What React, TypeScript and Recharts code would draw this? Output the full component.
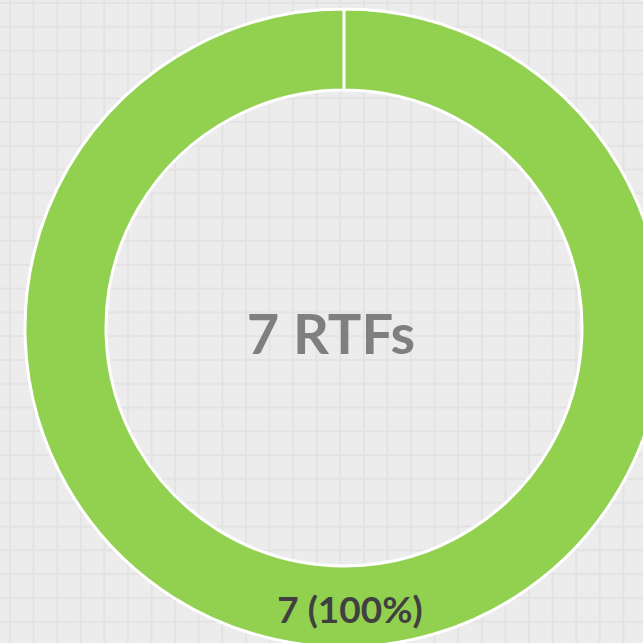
import React from "react";
import { PieChart, Pie, Cell, Label } from "recharts";

// single category, single value -> full ring
const categories = ["RTF"];
const counts = [7];
const centerTitle = "7 RTFs";

const sliceColors = ["#92D050"];

const data = categories.map((name, i) => ({ name, value: counts[i] }));
const total = counts.reduce((a, b) => a + b, 0);

const RADIAN = Math.PI / 180;

// draws "7 (100%)" in the middle of the ring thickness
const renderSliceLabel = (props: any) => {
  const { cx, cy, midAngle, innerRadius, outerRadius, value } = props;
  const r = (innerRadius + outerRadius) / 2;
  const x = cx + r * Math.cos(-midAngle * RADIAN);
  const y = cy + r * Math.sin(-midAngle * RADIAN);
  const pct = Math.round((value / total) * 100);
  return (
    <text
      x={x + 6}
      y={y + 2}
      fill="#404040"
      textAnchor="middle"
      dominantBaseline="central"
      fontFamily="Lato, 'Open Sans', sans-serif"
      fontWeight={700}
      fontSize={37}
    >
      {`${value} (${pct}%)`}
    </text>
  );
};

const App: React.FC = () => {
  return (
    <div
      style={{
        position: "absolute",
        top: 0,
        left: 0,
        width: 643,
        height: 643,
        backgroundColor: "#ececec",
        backgroundImage:
          "linear-gradient(to right, #e3e3e3 0px, #e3e3e3 2px, transparent 2px), linear-gradient(to bottom, #e3e3e3 0px, #e3e3e3 2px, transparent 2px)",
        backgroundSize: "23.6px 23.8px",
        backgroundPosition: "9px 2px",
      }}
    >
      <PieChart width={643} height={643} margin={{ top: 0, right: 0, bottom: 0, left: 0 }}>
        <Pie
          data={data}
          dataKey="value"
          nameKey="name"
          cx={344}
          cy={328}
          innerRadius={238}
          outerRadius={319}
          startAngle={90}
          endAngle={-270}
          stroke="#ffffff"
          strokeWidth={3}
          label={renderSliceLabel}
          labelLine={false}
          isAnimationActive={false}
        >
          {data.map((d, i) => (
            <Cell key={d.name} fill={sliceColors[i % sliceColors.length]} />
          ))}
          <Label
            content={(p: any) => {
              const vb = p.viewBox || {};
              return (
                <text
                  x={vb.cx - 13}
                  y={vb.cy + 4}
                  fill="#7f7f7f"
                  textAnchor="middle"
                  dominantBaseline="central"
                  fontFamily="Lato, 'Open Sans', sans-serif"
                  fontWeight={700}
                  fontSize={56}
                >
                  {centerTitle}
                </text>
              );
            }}
          />
        </Pie>
      </PieChart>
    </div>
  );
};

export default App;
